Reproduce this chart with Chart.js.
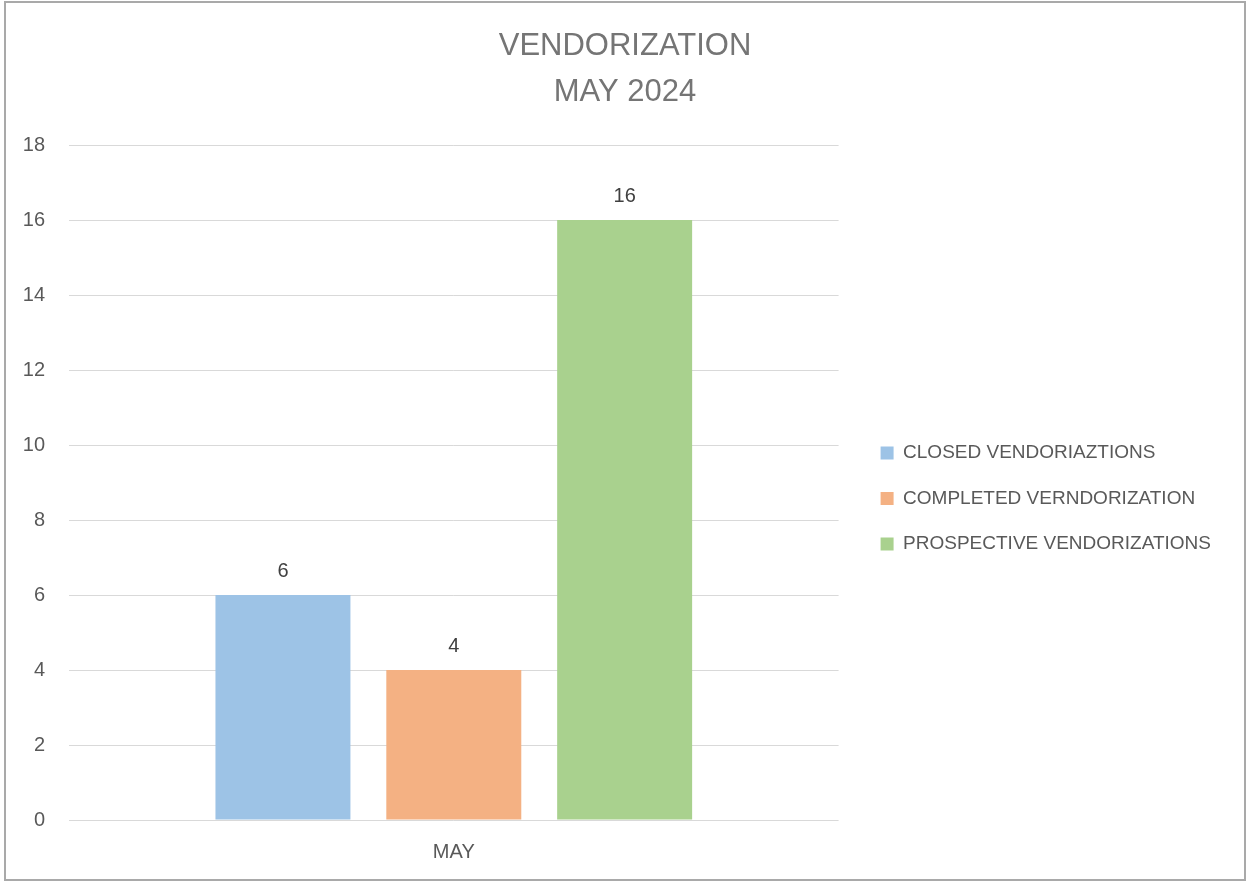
<!DOCTYPE html>
<html lang="en">
<head>
<meta charset="UTF-8">
<title>Vendorization May 2024</title>
<script src="https://cdn.jsdelivr.net/npm/chart.js"></script>
<style>
    body { margin: 0; background: #fff; }
    #wrap {
        position: absolute; left: 4px; top: 1px;
        width: 1238px; height: 876px;
        border: 2px solid #a9a9a9;
    }
</style>
</head>
<body>
<div id="wrap">
    <canvas id="vendChart" width="1238" height="876"></canvas>
</div>

<script>
    var categories = ['MAY'];
    var seriesNames = ['CLOSED VENDORIAZTIONS', 'COMPLETED VERNDORIZATION', 'PROSPECTIVE VENDORIZATIONS'];
    var closedVals = [6];
    var completedVals = [4];
    var prospectiveVals = [16];
    var barColors = ['#9dc3e6', '#f4b183', '#a9d18e'];
    var titleLines = ['VENDORIZATION', 'MAY 2024'];

    var fontFamily = "'Liberation Sans', Arial, sans-serif";

    // value labels above each bar
    var barLabels = {
        id: 'barLabels',
        afterDatasetsDraw: function (chart) {
            var ctx = chart.ctx;
            ctx.save();
            ctx.font = '20px ' + fontFamily;
            ctx.fillStyle = '#404040';
            ctx.textAlign = 'center';
            ctx.textBaseline = 'middle';
            chart.data.datasets.forEach(function (ds, i) {
                chart.getDatasetMeta(i).data.forEach(function (bar, j) {
                    ctx.fillText(ds.data[j], bar.x, bar.y - 24);
                });
            });
            ctx.restore();
        }
    };

    var ctx = document.getElementById('vendChart').getContext('2d');
    var chart = new Chart(ctx, {
        type: 'bar',
        data: {
            labels: categories,
            datasets: [
                { label: seriesNames[0], data: closedVals, backgroundColor: barColors[0] },
                { label: seriesNames[1], data: completedVals, backgroundColor: barColors[1] },
                { label: seriesNames[2], data: prospectiveVals, backgroundColor: barColors[2] }
            ]
        },
        options: {
            responsive: false,
            animation: false,
            categoryPercentage: 0.666,
            barPercentage: 0.79,
            layout: { padding: 0 },
            plugins: {
                title: {
                    display: true,
                    text: titleLines,
                    color: '#757575',
                    font: { family: fontFamily, size: 31, weight: 'normal', lineHeight: 1.484 },
                    padding: { top: 20, bottom: 30 }
                },
                legend: {
                    position: 'right',
                    maxWidth: 500,
                    // empty title only pushes the items down
                    title: { display: true, text: '', font: { size: 10, lineHeight: 1 }, padding: { top: 0, bottom: 105 } },
                    labels: {
                        boxWidth: 13,
                        boxHeight: 13,
                        padding: 26.5,
                        color: '#595959',
                        font: { family: fontFamily, size: 19 }
                    }
                },
                tooltip: { enabled: false }
            },
            scales: {
                x: {
                    grid: { display: false, drawTicks: false },
                    border: { display: false },
                    ticks: { color: '#595959', padding: 20, font: { family: fontFamily, size: 20 } },
                    afterFit: function (scale) { scale.height = 59; }
                },
                y: {
                    min: 0,
                    max: 18,
                    ticks: { stepSize: 2, color: '#595959', padding: 24, font: { family: fontFamily, size: 20 } },
                    grid: { color: '#d9d9d9', lineWidth: 1, drawTicks: false },
                    border: { display: false },
                    afterFit: function (scale) { scale.width = 63; }
                },
                gap: {
                    type: 'linear',
                    position: 'right',
                    grid: { display: false, drawTicks: false },
                    border: { display: false },
                    ticks: { display: false },
                    afterFit: function (scale) { scale.width = 15.5; }
                },
                pad: {
                    type: 'linear',
                    position: 'right',
                    weight: 2000,
                    grid: { display: false, drawTicks: false },
                    border: { display: false },
                    ticks: { display: false },
                    afterFit: function (scale) { scale.width = 23; }
                }
            }
        },
        plugins: [barLabels]
    });
</script>
</body>
</html>
